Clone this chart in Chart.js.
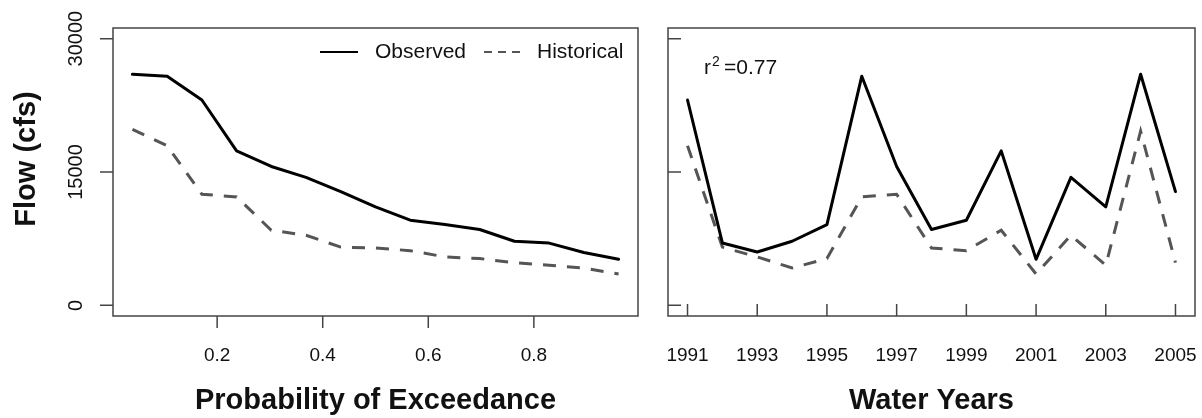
<!DOCTYPE html>
<html>
<head>
<meta charset="utf-8">
<script src="https://cdn.jsdelivr.net/npm/chart.js@4.4.1/dist/chart.umd.min.js"></script>
<style>
  html, body { margin: 0; padding: 0; background: #fff; }
  #wrap { position: relative; width: 1202px; height: 418px; }
  #left { position: absolute; left: 0; top: 0; }
  #right { position: absolute; left: 650px; top: 0; }
</style>
</head>
<body>
<div id="wrap">
  <canvas id="left" width="650" height="418"></canvas>
  <canvas id="right" width="552" height="418"></canvas>
</div>
<script>
// flow duration (sorted flows, cfs) vs probability of exceedance
var exceedProb = [0.0395, 0.1053, 0.1711, 0.2368, 0.3026, 0.3684, 0.4342, 0.5,
                  0.5658, 0.6316, 0.6974, 0.7632, 0.8289, 0.8947, 0.9605];
var exceedObserved = [26000, 25780, 23100, 17380, 15620, 14400, 12800, 11075,
                      9575, 9090, 8530, 7210, 7000, 5950, 5180];
var exceedHistorical = [19800, 17950, 12500, 12200, 8450, 7885, 6550, 6450,
                        6150, 5450, 5260, 4800, 4505, 4200, 3520];

// annual series
var waterYears = [1991, 1992, 1993, 1994, 1995, 1996, 1997, 1998, 1999, 2000,
                  2001, 2002, 2003, 2004, 2005];
var yearObserved = [23100, 7020, 6000, 7210, 9090, 25780, 15620, 8530, 9575,
                    17380, 5180, 14400, 11075, 26000, 12800];
var yearHistorical = [17950, 6550, 5450, 4200, 5260, 12200, 12500, 6450, 6150,
                      8450, 3520, 7885, 4505, 19600, 4800];

// tick labels
var flowTicks = [0, 15000, 30000];
var probTicks = [0.2, 0.4, 0.6, 0.8];
var yearTicks = [1991, 1993, 1995, 1997, 1999, 2001, 2003, 2005];

var FONT = "'Liberation Sans', Arial, sans-serif";
var INK = '#444';
var TXT = '#111';
Chart.defaults.font.family = FONT;
Chart.defaults.color = TXT;

function pts(xs, ys) {
  return xs.map(function (x, i) { return { x: x, y: ys[i] }; });
}
function setTicks(list) {
  return function (scale) { scale.ticks = list.map(function (v) { return { value: v }; }); };
}
// fixed axis size, and no extra room for overhanging labels
function fixSize(prop, size) {
  return function (s) {
    s[prop] = size;
    s.paddingLeft = s.paddingRight = s.paddingTop = s.paddingBottom = 0;
  };
}

// R-style box + tick marks (outward on the left panel, inward on the right)
function boxPlugin(inward) {
  return {
    id: 'box',
    afterDraw: function (chart) {
      var ctx = chart.ctx, a = chart.chartArea;
      var xs = chart.scales.x, ys = chart.scales.y;
      var len = 12, dir = inward ? -1 : 1;
      ctx.save();
      ctx.strokeStyle = INK;
      ctx.lineWidth = 1.5;
      ctx.strokeRect(a.left, a.top, a.right - a.left, a.bottom - a.top);
      ctx.beginPath();
      xs.ticks.forEach(function (t) {
        var px = xs.getPixelForValue(t.value);
        ctx.moveTo(px, a.bottom);
        ctx.lineTo(px, a.bottom + dir * len);
      });
      ys.ticks.forEach(function (t) {
        var py = ys.getPixelForValue(t.value);
        ctx.moveTo(a.left, py);
        ctx.lineTo(a.left - dir * (len + 1), py);
      });
      ctx.stroke();
      ctx.restore();
    }
  };
}

// rotated y labels, y title and legend for the left panel
var leftExtras = {
  id: 'leftExtras',
  afterDraw: function (chart) {
    var ctx = chart.ctx, ys = chart.scales.y;
    ctx.save();
    ctx.fillStyle = TXT;
    ctx.textAlign = 'center';
    ctx.textBaseline = 'middle';
    ctx.font = '20px ' + FONT;
    ys.ticks.forEach(function (t) {
      ctx.save();
      ctx.translate(76, ys.getPixelForValue(t.value));
      ctx.rotate(-Math.PI / 2);
      ctx.fillText(String(t.value), 0, 0);
      ctx.restore();
    });
    ctx.save();
    ctx.font = 'bold 29px ' + FONT;
    ctx.translate(27, 159);
    ctx.rotate(-Math.PI / 2);
    ctx.fillText('Flow (cfs)', 0, 0);
    ctx.restore();

    // legend
    var ly = 52;
    ctx.lineWidth = 2;
    ctx.strokeStyle = '#000';
    ctx.beginPath(); ctx.moveTo(320, ly); ctx.lineTo(358, ly); ctx.stroke();
    ctx.strokeStyle = '#555';
    ctx.setLineDash([8, 6]);
    ctx.beginPath(); ctx.moveTo(484, ly); ctx.lineTo(524, ly); ctx.stroke();
    ctx.setLineDash([]);
    ctx.font = '21px ' + FONT;
    ctx.textAlign = 'left';
    ctx.fillText('Observed', 375, ly);
    ctx.fillText('Historical', 537, ly);
    ctx.restore();
  }
};

var rightExtras = {
  id: 'rightExtras',
  afterDraw: function (chart) {
    var ctx = chart.ctx;
    ctx.save();
    ctx.fillStyle = TXT;
    ctx.textBaseline = 'alphabetic';
    ctx.font = '21px ' + FONT;
    ctx.fillText('r', 54, 74);
    ctx.font = '14px ' + FONT;
    ctx.fillText('2', 62, 66);
    ctx.font = '21px ' + FONT;
    ctx.fillText('=0.77', 74, 74);
    ctx.restore();
  }
};

function seriesSets(xs, obs, hist) {
  return [
    { label: 'Observed', data: pts(xs, obs), borderColor: '#000', borderWidth: 3,
      pointRadius: 0, tension: 0, borderCapStyle: 'round', borderJoinStyle: 'round' },
    { label: 'Historical', data: pts(xs, hist), borderColor: '#555', borderWidth: 3,
      borderDash: [13, 11], pointRadius: 0, tension: 0, borderCapStyle: 'butt' }
  ];
}

var yScale = function (w) {
  return {
    type: 'linear', min: -1200, max: 31200,
    afterBuildTicks: setTicks(flowTicks),
    afterFit: fixSize('width', w),
    grid: { display: false, drawTicks: false },
    border: { display: false },
    ticks: { display: false }
  };
};

new Chart(document.getElementById('left').getContext('2d'), {
  type: 'line',
  data: { datasets: seriesSets(exceedProb, exceedObserved, exceedHistorical) },
  options: {
    responsive: false,
    animation: false,
    layout: { padding: { top: 28, right: 12, bottom: 0, left: 0 } },
    plugins: { legend: { display: false }, tooltip: { enabled: false } },
    scales: {
      x: {
        type: 'linear', min: 0.0027, max: 0.9973,
        afterBuildTicks: setTicks(probTicks),
        afterFit: fixSize('height', 102),
        grid: { display: false, drawTicks: false },
        border: { display: false },
        ticks: { autoSkip: false, maxRotation: 0, padding: 28,
                  font: { size: 19 }, color: TXT,
                  callback: function (v) { return v.toFixed(1); } },
        title: { display: true, text: 'Probability of Exceedance', color: TXT,
                 font: { size: 29, weight: 'bold' }, padding: { top: 0, bottom: 0 } }
      },
      y: yScale(113)
    }
  },
  plugins: [boxPlugin(false), leftExtras]
});

new Chart(document.getElementById('right').getContext('2d'), {
  type: 'line',
  data: { datasets: seriesSets(waterYears, yearObserved, yearHistorical) },
  options: {
    responsive: false,
    animation: false,
    layout: { padding: { top: 28, right: 7, bottom: 0, left: 0 } },
    plugins: { legend: { display: false }, tooltip: { enabled: false } },
    scales: {
      x: {
        type: 'linear', min: 1990.44, max: 2005.56,
        afterBuildTicks: setTicks(yearTicks),
        afterFit: fixSize('height', 102),
        grid: { display: false, drawTicks: false },
        border: { display: false },
        ticks: { autoSkip: false, maxRotation: 0, padding: 28,
                 font: { size: 19 }, color: TXT,
                 callback: function (v) { return String(v); } },
        title: { display: true, text: 'Water Years', color: TXT,
                 font: { size: 29, weight: 'bold' }, padding: { top: 0, bottom: 0 } }
      },
      y: yScale(18)
    }
  },
  plugins: [boxPlugin(true), rightExtras]
});
</script>
</body>
</html>
